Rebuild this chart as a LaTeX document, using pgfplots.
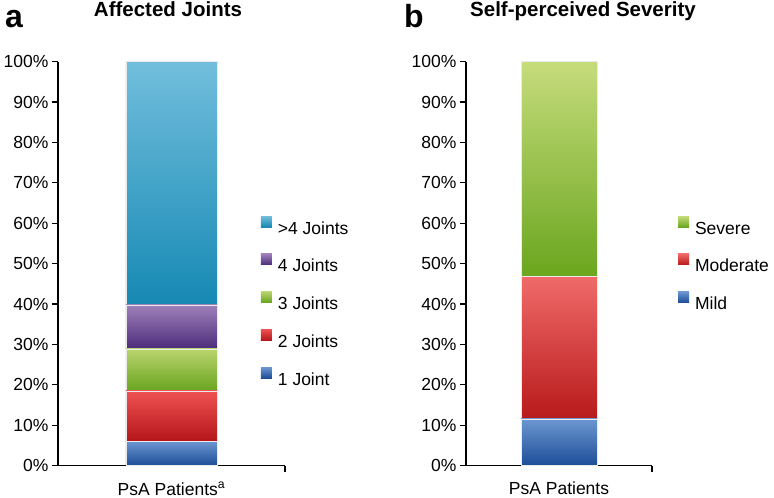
\documentclass[border=0pt]{standalone}
\usepackage{pgfplots}
\pgfplotsset{compat=1.18}
\usepackage{fontspec}
\setmainfont{Liberation Sans}

\definecolor{cyanT}{HTML}{72BEDC}\definecolor{cyanB}{HTML}{1689B4}
\definecolor{purT}{HTML}{9E80BA}\definecolor{purB}{HTML}{4D2C7A}
\definecolor{grnT}{HTML}{BAD56E}\definecolor{grnB}{HTML}{68A41F}
\definecolor{redT}{HTML}{EF5252}\definecolor{redB}{HTML}{B5161A}
\definecolor{bluT}{HTML}{6C97D1}\definecolor{bluB}{HTML}{1D4D98}
\definecolor{sevT}{HTML}{C6DC7C}\definecolor{sevB}{HTML}{6AA61E}
\definecolor{modT}{HTML}{F06A6A}\definecolor{modB}{HTML}{B81A1A}

\newcommand{\lbl}{\fontsize{17.5}{20}\selectfont}

\pgfplotsset{
  panel/.style={
    scale only axis, height=404pt,
    ymin=0, ymax=100, xmin=-1, xmax=1,
    ybar stacked,
    axis x line*=bottom, axis y line*=left,
    ytick={0,10,...,100},
    yticklabels={0\%,10\%,20\%,30\%,40\%,50\%,60\%,70\%,80\%,90\%,100\%},
    xtick={0},
    tick align=outside, major tick length=6pt,
    x tick style={draw=none},
    y tick style={line width=1.2pt, black},
    axis line style={line width=1.2pt},
    tick label style={font=\lbl},
    xticklabel style={yshift=-7pt},
    clip=false,
    legend image code/.code={\path[##1, draw=none] (0pt,0.75pt) rectangle (11pt,11.75pt);},
    reverse legend,
    legend cell align=left,
    legend style={draw=none, fill=none, anchor=north west,
      inner sep=0pt, outer sep=0pt, row sep=19.75pt, font=\lbl,
      nodes={inner sep=0pt, text height=12.5pt, text depth=0pt},
      /tikz/every odd column/.append style={column sep=6pt}},
  },
  seg/.style={draw=black!8, line width=0.5pt, top color=#1T, bottom color=#1B},
}

\begin{document}
\begin{tikzpicture}
\path[use as bounding box] (0pt,0pt) rectangle (774pt,498pt);

% panel a
\begin{axis}[panel, width=227pt, bar width=91pt,
  at={(58pt,32.3pt)}, anchor=south west,
  xticklabels={PsA Patients\textsuperscript{a}},
  legend style={at={(rel axis cs:0.894,0.618)}}]
  \addplot[seg=blu] coordinates {(0,6.1)};
  \addplot[seg=red] coordinates {(0,12.4)};
  \addplot[seg=grn] coordinates {(0,10.4)};
  \addplot[seg=pur] coordinates {(0,10.9)};
  \addplot[seg=cyan] coordinates {(0,60.2)};
  \legend{1 Joint,2 Joints,3 Joints,4 Joints,>4 Joints}
  \draw[line width=1.2pt] (rel axis cs:1,0) -- ++(0pt,-6pt);
\end{axis}

% panel b
\begin{axis}[panel, width=186pt, bar width=76pt,
  at={(466pt,32.3pt)}, anchor=south west,
  xticklabels={PsA Patients},
  legend style={at={(rel axis cs:1.140,0.618)}}]
  \addplot[seg=blu] coordinates {(0,11.6)};
  \addplot[seg=mod] coordinates {(0,35.2)};
  \addplot[seg=sev] coordinates {(0,53.2)};
  \legend{Mild,Moderate,Severe}
  \draw[line width=1.2pt] (rel axis cs:1,0) -- ++(0pt,-6pt);
\end{axis}

\node[anchor=base west, inner sep=0pt, font=\fontsize{32}{36}\selectfont\bfseries] at (5pt,470pt) {a};
\node[anchor=base west, inner sep=0pt, font=\fontsize{32}{36}\selectfont\bfseries] at (404pt,470pt) {b};
\node[anchor=base, inner sep=0pt, font=\fontsize{20.5}{24}\selectfont\bfseries] at (168pt,481pt) {Affected Joints};
\node[anchor=base, inner sep=0pt, font=\fontsize{20.5}{24}\selectfont\bfseries] at (583pt,481pt) {Self-perceived Severity};
\end{tikzpicture}
\end{document}
